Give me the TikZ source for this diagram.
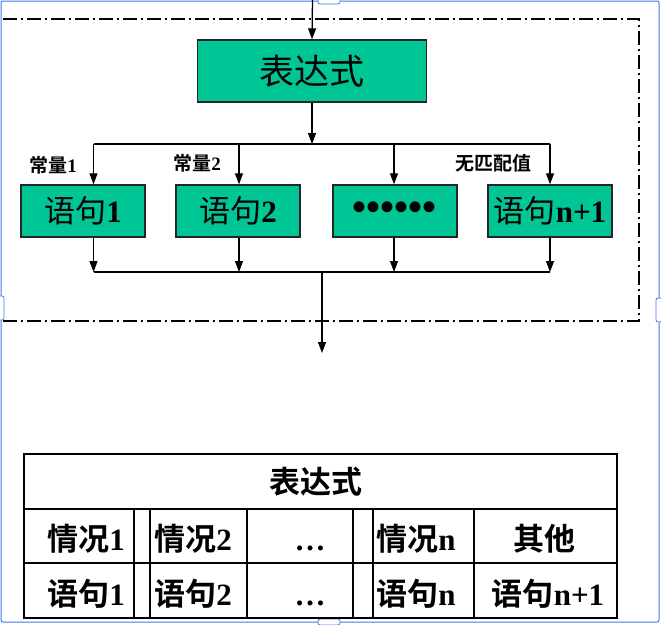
\documentclass[tikz,border=0pt]{standalone}
\usepackage{fontspec}
\setmainfont{Liberation Serif}
\newfontfamily\cjk{Noto Sans CJK SC}[BoldFont={Noto Sans CJK SC Bold}]
\usetikzlibrary{arrows.meta}
\definecolor{boxgreen}{RGB}{0,198,150}
\definecolor{selblue}{RGB}{70,120,230}
\newcommand\zh[1]{{\cjk #1}}
\newcommand\zhb[1]{{\cjk\bfseries #1}}
\begin{document}
\begin{tikzpicture}[x=1pt,y=-1pt,
  gbox/.style={draw=black!85,line width=1.4pt,fill=boxgreen,inner sep=0pt,
    minimum width=124pt,minimum height=52pt,font=\fontsize{31}{31}\selectfont},
  arr/.style={line width=1.3pt,-{Triangle[length=11pt,width=8pt]}},
  ln/.style={line width=1.3pt},
  lbl/.style={font=\fontsize{19}{19}\selectfont\bfseries,inner sep=0pt},
  tline/.style={line width=2.2pt,black},
  tcell/.style={font=\fontsize{31}{31}\selectfont\bfseries,inner sep=0pt,anchor=base},
  dashdot/.style={line width=1.4pt,dash pattern=on 14pt off 4pt on 2pt off 4pt}]
\useasboundingbox (0,0) rectangle (661,624);
% selection frame
\draw[selblue,line width=1pt,rounded corners=2pt] (1,1) rectangle (659,622);
\draw[selblue,line width=0.8pt,fill=white,rounded corners=2pt] (318,-2) rectangle (340,4);
\draw[selblue,line width=0.8pt,fill=white,rounded corners=2pt] (318,619) rectangle (340,625);
\draw[selblue,line width=0.8pt,fill=white,rounded corners=2pt] (-2,296) rectangle (4,320);
\draw[selblue,line width=0.8pt,fill=white,rounded corners=2pt] (656,298) rectangle (662,322);
% dash-dot frame
\draw[dashdot] (3,19) -- (639,19) -- (639,321) -- (3,321);
% nodes
\coordinate (in) at (312.5,0);
\node[gbox,minimum width=229pt,minimum height=62pt,font=\fontsize{35}{35}\selectfont] (exp) at (312,71) {\zh{表达式}};
\node[gbox] (b1) at (83,211) {\zh{语句}\textbf{1}};
\node[gbox] (b2) at (238,211) {\zh{语句}\textbf{2}};
\node[gbox,font=\fontsize{40}{40}\selectfont] (b3) at (395,211) {\textbf{••••••}};
\node[gbox] (b4) at (550,211) {\zh{语句}\textbf{n+1}};
\coordinate (split) at (312,144);
\coordinate (j1) at (93.5,144);
\coordinate (j2) at (239,144);
\coordinate (j3) at (394,144);
\coordinate (j4) at (550,144);
\coordinate (m1) at (93.5,272);
\coordinate (m2) at (239,272);
\coordinate (m3) at (394,272);
\coordinate (m4) at (550,272);
\coordinate (merge) at (322,272);
\coordinate (out) at (322,353);
% labels
\node[lbl] (l1) at (53,165) {\zhb{常量}1};
\node[lbl] (l2) at (197,163) {\zhb{常量}2};
\node[lbl] (l3) at (493,163) {\zhb{无匹配值}};
% connectors
\draw[arr] (in) -- (exp.north);
\draw[arr] (exp.south) -- (split);
\draw[ln] (j1) -- (j4);
\foreach \i in {1,2,3,4} {
  \draw[arr] (j\i) -- (j\i |- b\i.north);
  \draw[arr] (j\i |- b\i.south) -- (m\i);
}
\draw[ln] (m1) -- (m4);
\draw[arr] (merge) -- (out);
% table
\draw[tline] (24,454) rectangle (617,618);
\draw[tline] (24,509) -- (617,509);
\draw[tline] (24,563) -- (617,563);
\foreach \x in {134,150,247,353,373,474} {
  \draw[line width=2pt] (\x,509) -- (\x,618);
}
\node[tcell,font=\fontsize{31}{31}\selectfont\bfseries] (t0) at (316,493) {\zhb{表达式}};
\node[tcell] (c1) at (86,550) {\zhb{情况}1};
\node[tcell] (c2) at (193,550) {\zhb{情况}2};
\node[tcell] (c3) at (310,550) {…};
\node[tcell] (c4) at (416,550) {\zhb{情况}n};
\node[tcell] (c5) at (544,550) {\zhb{其他}};
\node[tcell] (s1) at (86,605) {\zhb{语句}1};
\node[tcell] (s2) at (193,605) {\zhb{语句}2};
\node[tcell] (s3) at (310,605) {…};
\node[tcell] (s4) at (416,605) {\zhb{语句}n};
\node[tcell] (s5) at (548,605) {\zhb{语句}n+1};
\end{tikzpicture}
\end{document}
